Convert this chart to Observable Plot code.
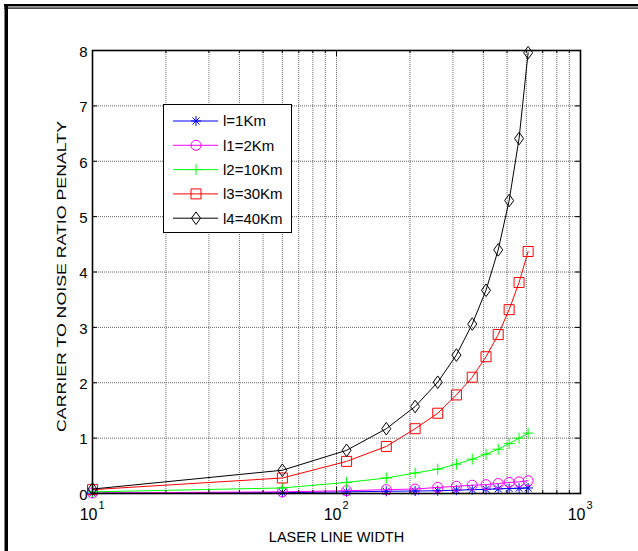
<!DOCTYPE html>
<html><head><meta charset="utf-8">
<script src="https://cdn.jsdelivr.net/npm/d3@7"></script>
<script src="https://cdn.jsdelivr.net/npm/@observablehq/plot@0.6"></script>
<style>
body{margin:0;background:#fff}
#chart{position:relative;width:638px;height:551px;background:#fff}
</style>
</head><body><div id="chart"></div>
<script>
// ---- data ----
const lineWidths = [10, 60, 110, 160, 210, 260, 310, 360, 410, 460, 510, 560, 610];
const seriesNames = ["l=1Km", "l1=2Km", "l2=10Km", "l3=30Km", "l4=40Km"];
const penalty1Km  = [0.005, 0.015, 0.03, 0.04, 0.045, 0.05, 0.06, 0.07, 0.075, 0.085, 0.09, 0.095, 0.10];
const penalty2Km  = [0.01, 0.03, 0.05, 0.07, 0.08, 0.11, 0.13, 0.15, 0.16, 0.18, 0.20, 0.21, 0.23];
const penalty10Km = [0.03, 0.10, 0.20, 0.28, 0.37, 0.44, 0.53, 0.62, 0.71, 0.80, 0.90, 1.00, 1.09];
const penalty30Km = [0.07, 0.28, 0.58, 0.85, 1.17, 1.45, 1.78, 2.10, 2.47, 2.87, 3.32, 3.81, 4.37];
const penalty40Km = [0.08, 0.42, 0.78, 1.17, 1.57, 2.01, 2.50, 3.06, 3.67, 4.40, 5.29, 6.41, 7.96];
const seriesColors = ["#0000ff", "#ff00ff", "#00ff00", "#ff0000", "#000000"];
const yTickValues = [0, 1, 2, 3, 4, 5, 6, 7, 8];
const xMajorTicks = [10, 100, 1000];
const xMinorTicks = [20, 30, 40, 50, 60, 70, 80, 90, 200, 300, 400, 500, 600, 700, 800, 900];
const xLabel = "LASER LINE WIDTH";
const yLabel = "CARRIER TO NOISE RATIO PENALTY";

// ---- marker shapes (MATLAB-like) ----
const rOf = s => Math.sqrt(s / Math.PI);
const symAsterisk = {draw(c, s) { const r = rOf(s), d = r * Math.SQRT1_2;
  c.moveTo(-r, 0); c.lineTo(r, 0); c.moveTo(0, -r); c.lineTo(0, r);
  c.moveTo(-d, -d); c.lineTo(d, d); c.moveTo(-d, d); c.lineTo(d, -d); }};
const symCircle = {draw(c, s) { const r = rOf(s); c.moveTo(r, 0); c.arc(0, 0, r, 0, 2 * Math.PI); }};
const symPlus = {draw(c, s) { const r = rOf(s); c.moveTo(-r, 0); c.lineTo(r, 0); c.moveTo(0, -r); c.lineTo(0, r); }};
const symSquare = {draw(c, s) { const r = rOf(s); c.moveTo(-r, -r); c.lineTo(r, -r); c.lineTo(r, r); c.lineTo(-r, r); c.closePath(); }};
const symDiamond = {draw(c, s) { const r = rOf(s), w = r * 0.72; c.moveTo(0, -r); c.lineTo(w, 0); c.lineTo(0, r); c.lineTo(-w, 0); c.closePath(); }};

const series = [
  {name: seriesNames[0], values: penalty1Km,  color: seriesColors[0], symbol: symAsterisk, r: 5},
  {name: seriesNames[1], values: penalty2Km,  color: seriesColors[1], symbol: symCircle,   r: 5},
  {name: seriesNames[2], values: penalty10Km, color: seriesColors[2], symbol: symPlus,     r: 5.5},
  {name: seriesNames[3], values: penalty30Km, color: seriesColors[3], symbol: symSquare,   r: 5},
  {name: seriesNames[4], values: penalty40Km, color: seriesColors[4], symbol: symDiamond,  r: 6.3}
];

const W = 638, H = 551, mL = 92, mR = 58, mT = 50, mB = 58;
const iW = W - mL - mR, iH = H - mT - mB;
const font = "'Liberation Sans', Arial, sans-serif";
const gridStyle = {stroke: "#000", strokeOpacity: 0.6, strokeWidth: 1, strokeDasharray: "1,1"};

const marks = [
  Plot.ruleX([...xMajorTicks, ...xMinorTicks], {x: d => d, ...gridStyle}),
  Plot.ruleY(yTickValues, {y: d => d, ...gridStyle}),
];
for (const s of series) {
  marks.push(Plot.line(lineWidths, {x: d => d, y: (d, i) => s.values[i], stroke: s.color, strokeWidth: 1}));
  marks.push(Plot.dot(lineWidths, {x: d => d, y: (d, i) => s.values[i], symbol: s.symbol, r: s.r, stroke: s.color, fill: "none", strokeWidth: 1}));
}
marks.push(
  Plot.frame({stroke: "#000", strokeWidth: 1.6}),
  // inward ticks on all four sides
  Plot.tickX(xMajorTicks, {x: d => d, insetTop: iH - 6, stroke: "#000"}),
  Plot.tickX(xMajorTicks, {x: d => d, insetBottom: iH - 6, stroke: "#000"}),
  Plot.tickX(xMinorTicks, {x: d => d, insetTop: iH - 3, stroke: "#000"}),
  Plot.tickX(xMinorTicks, {x: d => d, insetBottom: iH - 3, stroke: "#000"}),
  Plot.tickY(yTickValues, {y: d => d, insetRight: iW - 5, stroke: "#000"}),
  Plot.tickY(yTickValues, {y: d => d, insetLeft: iW - 5, stroke: "#000"}),
  // tick labels
  Plot.text(yTickValues, {y: d => d, text: d => String(d), frameAnchor: "left", textAnchor: "end", lineAnchor: "middle", dx: -5, dy: 1.5, fontSize: 15, fill: "#000"}),
  Plot.text(xMajorTicks, {x: d => d, text: () => "10", frameAnchor: "bottom", textAnchor: "end", lineAnchor: "middle", dx: 5, dy: 21, fontSize: 16, fill: "#000"}),
  Plot.text(xMajorTicks, {x: d => d, text: d => String(Math.round(Math.log10(d))), frameAnchor: "bottom", textAnchor: "start", lineAnchor: "middle", dx: 6, dy: 12, fontSize: 11, fill: "#000"}),
  // axis labels
  Plot.text([xLabel], {text: d => d, frameAnchor: "bottom", textAnchor: "middle", lineAnchor: "middle", dy: 44, fontSize: 14.5, fill: "#000"}),
  Plot.text([yLabel], {text: d => d, frameAnchor: "left", textAnchor: "middle", lineAnchor: "middle", dx: -31, dy: 4.5, rotate: -90, fontSize: 12.5, fill: "#000"})
);

const chart = Plot.plot({
  width: W, height: H,
  marginLeft: mL, marginRight: mR, marginTop: mT, marginBottom: mB,
  x: {type: "log", domain: [10, 1000], axis: null},
  y: {domain: [0, 8], axis: null},
  style: {fontFamily: font, background: "#fff", overflow: "visible"},
  marks
});
document.getElementById("chart").appendChild(chart);

const svg = d3.select(chart);
// stretch the y label to its measured length
svg.selectAll("text").filter(function() { return this.textContent === yLabel; })
  .attr("text-anchor", "middle").attr("textLength", 311).attr("lengthAdjust", "spacingAndGlyphs");

// legend
const lg = svg.append("g").attr("text-anchor", "start");
lg.append("rect").attr("x", 163.5).attr("y", 104.5).attr("width", 128).attr("height", 128)
  .attr("fill", "#fff").attr("stroke", "#000").attr("stroke-width", 1);
series.forEach((s, i) => {
  const y = 121 + i * 24.3;
  lg.append("line").attr("x1", 173).attr("x2", 218).attr("y1", y).attr("y2", y)
    .attr("stroke", s.color).attr("stroke-width", 1);
  lg.append("path").attr("transform", `translate(196,${y})`)
    .attr("d", d3.symbol(s.symbol, s.r * s.r * Math.PI)())
    .attr("fill", "none").attr("stroke", s.color).attr("stroke-width", 1);
  lg.append("text").attr("x", 223).attr("y", y).attr("dy", "0.36em").attr("text-anchor", "start")
    .attr("font-size", 15).attr("font-family", font).attr("fill", "#000").text(s.name);
});

// outer frame lines of the figure
svg.append("rect").attr("x", 4).attr("y", 4).attr("width", W - 4).attr("height", 2.4).attr("fill", "#000");
svg.append("rect").attr("x", 4).attr("y", 7.5).attr("width", W - 4).attr("height", 1.2).attr("fill", "#000");
svg.append("rect").attr("x", 4.5).attr("y", 4).attr("width", 3.5).attr("height", H - 4).attr("fill", "#000");
</script>
</body></html>
